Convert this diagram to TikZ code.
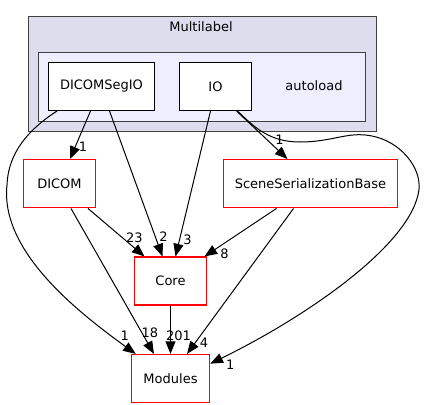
\documentclass[tikz,border=0pt]{standalone}
\usepackage{fontspec}
\setmainfont{DejaVu Sans}
\usetikzlibrary{positioning,calc,arrows.meta}

\definecolor{clusterouter}{HTML}{DDDDEE}
\definecolor{clusterinner}{HTML}{EEEEFF}
\definecolor{clusterline}{HTML}{404040}

\begin{document}
\begin{tikzpicture}[
		x=0.75pt, y=-0.75pt,
		node distance=36pt and 18pt,
		font=\fontsize{9.75}{11}\selectfont,
		ar/.style={-{Triangle[length=9.5pt,width=7.5pt]}, line width=0.75pt},
		dirnode/.style={draw, line width=0.75pt, fill=white, minimum width=54pt, minimum height=36pt, inner xsep=2pt},
		extnode/.style={dirnode, draw=red, line width=1.1pt},
		cluster/.style={draw=clusterline, line width=0.75pt},
		lbl/.style={inner sep=0pt}
	]
		\useasboundingbox (0,0) rectangle (424,404);
		\draw[cluster, fill=clusterouter] (28.5,16.5) rectangle (376.5,131.5);
		\draw[cluster, fill=clusterinner] (38.5,52.5) rectangle (365.5,121.5);
		\node (multilabel) at (201,27) {Multilabel};
		\node (autoload) at (314,86) {autoload};

		\node[dirnode,minimum width=79.5pt] (dseg) at (101.5,86.5) {DICOMSegIO};
		\node[dirnode,right=of dseg] (io) {IO};
		\node[extnode,below=of dseg,xshift=-31.5pt] (dicom) {DICOM};
		\node[extnode,below=of io,xshift=71.25pt,minimum width=130.5pt] (ssb) {SceneSerializationBase};
		\node[extnode,below=of dicom,xshift=83.25pt] (core) {Core};
		\node[extnode,below=of core,minimum width=58.5pt] (modules) {Modules};

		\draw[ar] ($(dseg.south)+(-11,0)$) -- ($(dicom.north)+(10.5,0)$) node[lbl,xshift=9.75pt,yshift=9pt] {1};
		\draw[ar] ($(dseg.south)+(8,0)$) -- ($(core.north)+(-8,0)$) node[lbl,xshift=0.75pt,yshift=15pt] {2};
		\draw[ar] ($(dseg.south west)+(9,0)$) .. controls (20,135) and (8,160) .. (7,185) .. controls (0,250) and (75,310) .. ($(modules.north west)+(5,0)$) node[lbl,xshift=-8.25pt,yshift=13.5pt] {1};
		\draw[ar] ($(io.south)+(-5,0)$) -- ($(core.north)+(5,0)$) node[lbl,xshift=9pt,yshift=12.75pt] {3};
		\draw[ar] ($(io.south)+(21,0)$) -- ($(ssb.north)+(-23,0)$) node[lbl,xshift=-6pt,yshift=14.25pt] {1};
		\draw[ar] ($(io.south)+(22,0)$) .. controls (255,128) and (270,142) .. (300,142) .. controls (330,142) and (345,133) .. (365,135) .. controls (400,138) and (425,170) .. (418,195) .. controls (405,250) and (300,320) .. ($(modules.east)+(0,-15)$) node[lbl,xshift=15pt,yshift=-0.75pt] {1};
		\draw[ar] ($(dicom.south)+(28.5,0)$) -- ($(core.north)+(-26,0)$) node[lbl,xshift=-7.5pt,yshift=14.25pt] {23};
		\draw[ar] ($(dicom.south)+(11.5,0)$) -- ($(modules.north)+(-16.5,0)$) node[lbl,xshift=-3pt,yshift=15.75pt] {18};
		\draw[ar] ($(ssb.south)+(-34,0)$) -- ($(core.north)+(34,0)$) node[lbl,xshift=15pt,yshift=2.25pt] {8};
		\draw[ar] ($(ssb.south)+(-17,0)$) -- ($(modules.north)+(16.5,0)$) node[lbl,xshift=12.75pt,yshift=8.25pt] {4};
		\draw[ar] (core.south) -- (modules.north) node[lbl,xshift=6pt,yshift=13.5pt] {201};
	\end{tikzpicture}
\end{document}
